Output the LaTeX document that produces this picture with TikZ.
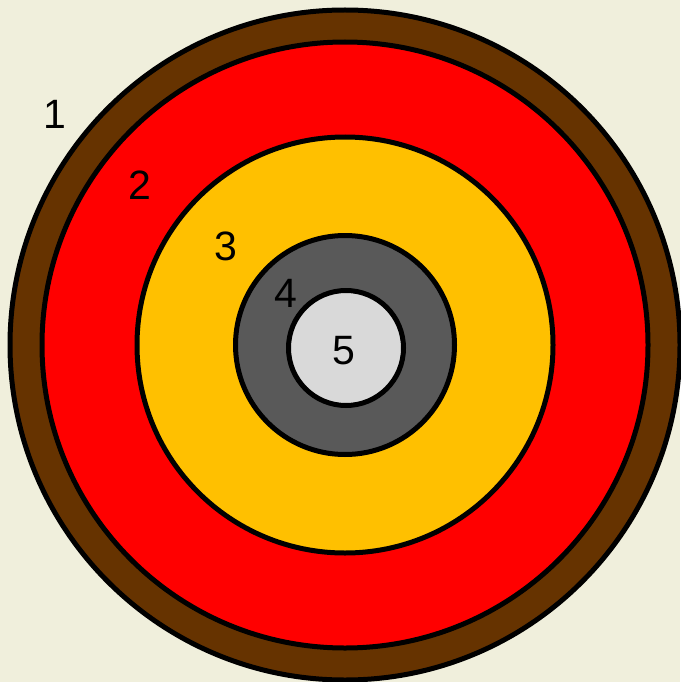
\documentclass[tikz,border=0pt]{standalone}
\usepackage{fontspec}
\setmainfont{Liberation Sans}
\definecolor{bgbeige}{HTML}{F0EFDC}
\definecolor{ringbrown}{HTML}{663300}
\definecolor{ringred}{HTML}{FF0000}
\definecolor{ringyellow}{HTML}{FFC000}
\definecolor{ringdark}{HTML}{595959}
\definecolor{ringlight}{HTML}{D9D9D9}
\begin{document}
\begin{tikzpicture}[x=1pt, y=-1pt, font=\fontsize{41}{49}\selectfont, line width=5pt]
	\fill[bgbeige] (0,0) rectangle (680,682);
	\useasboundingbox (0,0) rectangle (680,682);
	
	%
	\coordinate (O) at (345,345);
	\coordinate (P) at (346,348);
	
	\foreach \r/\c in {335/ringbrown, 303/ringred, 208/ringyellow, 109.5/ringdark} {
		\filldraw[fill=\c] (O) circle (\r pt);
	}
	\filldraw[fill=ringlight] (P) circle (57.5pt);
	
	\node (n1) at (55,114) {1};
	\node (n2) at (140,185) {2};
	\node (n3) at (226,246) {3};
	\node (n4) at (286,293) {4};
	\node (n5) at (344,351) {5};
\end{tikzpicture}
\end{document}
